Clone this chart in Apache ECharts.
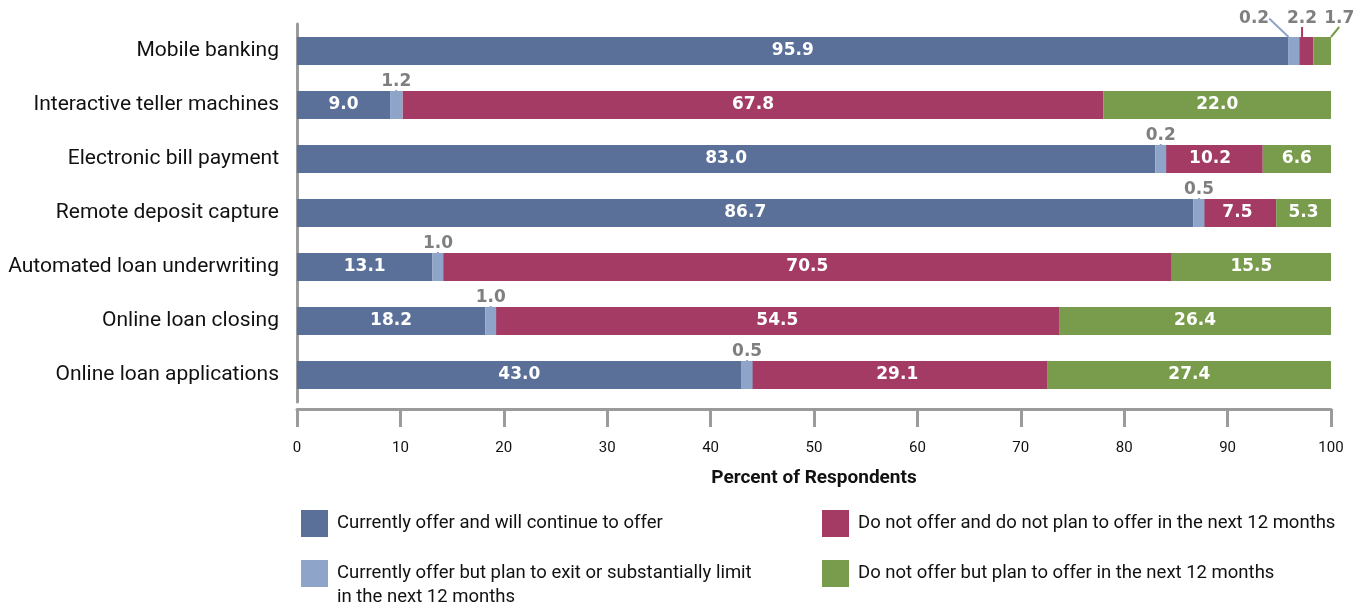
<!DOCTYPE html>
<html>
<head>
<meta charset="utf-8">
<script src="https://cdn.jsdelivr.net/npm/echarts@6/dist/echarts.min.js"></script>
<style>
html,body{margin:0;padding:0;background:#fff;}
#chart{width:1367px;height:607px;}
</style>
</head>
<body>
<div id="chart"></div>
<script>
const categories = ['Mobile banking','Interactive teller machines','Electronic bill payment','Remote deposit capture','Automated loan underwriting','Online loan closing','Online loan applications'];
const seriesNames = ['Currently offer and will continue to offer','Currently offer but plan to exit or substantially limit\nin the next 12 months','Do not offer and do not plan to offer in the next 12 months','Do not offer but plan to offer in the next 12 months'];
const offerContinue = [95.9, 9.0, 83.0, 86.7, 13.1, 18.2, 43.0];
const offerExit = [0.2, 1.2, 0.2, 0.5, 1.0, 1.0, 0.5];
const noOfferNoPlan = [2.2, 67.8, 10.2, 7.5, 70.5, 54.5, 29.1];
const noOfferPlan = [1.7, 22.0, 6.6, 5.3, 15.5, 26.4, 27.4];
const xTicks = [0,10,20,30,40,50,60,70,80,90,100];

const colors = ['#5a7099','#8fa4c9','#a33b65','#789c4c'];
const grayLbl = '#7f7f7f';
const labelFont = 'DejaVu Sans';
const textFont = 'Roboto';

const innerLabel = {show:true, position:'inside', color:'#fff', fontFamily:labelFont, fontWeight:'bold', fontSize:17, formatter:p=>p.value.toFixed(1)};
const outerLabel = {show:true, position:'top', distance:1, color:grayLbl, fontFamily:labelFont, fontWeight:'bold', fontSize:17, formatter:p=>p.value.toFixed(1)};

function mkData(arr, outsideIdx, color){
  return arr.map((v,i)=> outsideIdx.includes(i) ? {value:v, label:outerLabel, labelLine:{show:true, lineStyle:{color:color, width:2}}} : v);
}

const legendText = {fontFamily:textFont, fontSize:18.5, color:'#111', lineHeight:24, padding:[0,0,0,4]};
function mkLegend(name, left, top){
  return {left:left, top:top, padding:0, itemWidth:27, itemHeight:27, icon:'rect', textStyle:legendText,
    formatter:n=> n.indexOf('\n')>=0 ? '\n'+n : n, data:[name]};
}

const chart = echarts.init(document.getElementById('chart'));
chart.setOption({
  animation:false,
  grid:{left:297, right:36, top:24, bottom:205, containLabel:false},
  xAxis:{type:'value', min:0, max:100, interval:10, offset:7,
    axisLine:{show:true, lineStyle:{color:'#9b9b9b', width:3}},
    axisTick:{show:true, length:18, lineStyle:{color:'#9b9b9b', width:3}},
    splitLine:{show:false},
    axisLabel:{margin:32, color:'#111', fontFamily:textFont, fontSize:15, formatter:v=>xTicks.includes(v)?String(v):''},
    name:'Percent of Respondents', nameLocation:'middle', nameGap:60,
    nameTextStyle:{color:'#111', fontFamily:textFont, fontWeight:'bold', fontSize:19}
  },
  yAxis:{type:'category', data:categories, inverse:true,
    axisLine:{show:true, lineStyle:{color:'#9b9b9b', width:3}},
    axisTick:{show:false},
    axisLabel:{margin:18, color:'#111', fontFamily:textFont, fontSize:21}
  },
  legend:[
    mkLegend(seriesNames[0], 301, 510),
    mkLegend(seriesNames[1], 301, 537.5),
    mkLegend(seriesNames[2], 822, 510),
    mkLegend(seriesNames[3], 822, 560)
  ],
  series:[
    {name:seriesNames[0], type:'bar', stack:'t', barWidth:28, itemStyle:{color:colors[0]}, label:innerLabel, data:offerContinue},
    {name:seriesNames[1], type:'bar', stack:'t', barWidth:28, barMinHeight:11, z:3, itemStyle:{color:colors[1]},
     label:outerLabel, labelLine:{show:true, lineStyle:{color:colors[1], width:2}},
     labelLayout:p=> p.dataIndex===0 ? {dx:-40, dy:-9} : {}, data:offerExit},
    {name:seriesNames[2], type:'bar', stack:'t', barWidth:28, itemStyle:{color:colors[2]}, label:innerLabel,
     labelLayout:p=> p.dataIndex===0 ? {dx:0, dy:-9} : {}, data:mkData(noOfferNoPlan,[0],colors[2])},
    {name:seriesNames[3], type:'bar', stack:'t', barWidth:28, itemStyle:{color:colors[3]}, label:innerLabel,
     labelLayout:p=> p.dataIndex===0 ? {dx:17, dy:-9} : {}, data:mkData(noOfferPlan,[0],colors[3])}
  ]
});
</script>
</body>
</html>
